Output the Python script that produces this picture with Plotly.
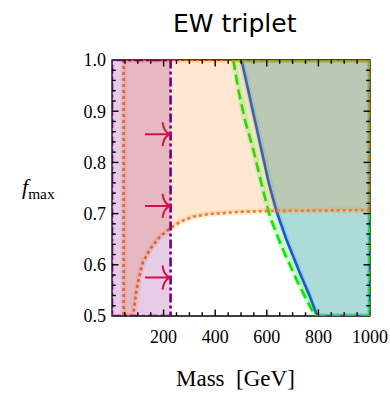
import plotly.graph_objects as go

# ---- exclusion boundaries (mass in GeV, f_max) ----
mass_min, mass_max = 0, 1000
f_min, f_max_top = 0.5, 1.0

# direct search limit (purple, dash-dot)
purple_mass = 227

# orange dotted boundary: vertical edge plus rising curve
orange_edge_mass = 45
orange_mass = [82, 93, 105, 121, 150, 186, 225, 264, 315, 373, 432, 483, 600, 800, 1000]
orange_f = [0.500, 0.544, 0.576, 0.606, 0.632, 0.655, 0.671, 0.684, 0.694, 0.699,
            0.701, 0.703, 0.705, 0.706, 0.707]

# green dashed boundary
green_mass = [470, 490, 515, 548, 580, 612, 658, 716, 761, 788]
green_f = [1.000, 0.941, 0.883, 0.824, 0.757, 0.694, 0.635, 0.570, 0.525, 0.500]

# blue solid boundary
blue_mass = [502, 528, 554, 580, 608, 638, 677, 729, 767, 795]
blue_f = [1.000, 0.941, 0.883, 0.824, 0.759, 0.704, 0.648, 0.583, 0.538, 0.500]

# arrows pointing at the direct search limit
arrow_f = [0.855, 0.715, 0.575]
arrow_start_mass = 128

x_ticks = [200, 400, 600, 800, 1000]
y_ticks = [0.5, 0.6, 0.7, 0.8, 0.9, 1.0]
x_major_step, x_minor_step = 200, 50
y_major_step, y_minor_step = 0.1, 0.02

# figure geometry (pixels)
W, H = 390, 398
M_L, M_R, M_T, M_B = 112, 20, 60, 82
plot_w, plot_h = W - M_L - M_R, H - M_T - M_B

fig = go.Figure()


def region(xs, ys, fill, edge, color, width, dash):
    # translucent halo along the boundary, then the styled boundary with the fill
    fig.add_trace(go.Scatter(x=xs, y=ys, mode="lines", hoverinfo="skip", showlegend=False,
                             line=dict(color=edge, width=6)))
    fig.add_trace(go.Scatter(x=xs, y=ys, fill="toself", fillcolor=fill, mode="lines",
                             hoverinfo="skip", showlegend=False,
                             line=dict(color=color, width=width, dash=dash)))


# blue region: right of the blue curve
region(blue_mass + [mass_max, mass_max, blue_mass[0]],
       blue_f + [f_min, f_max_top, blue_f[0]],
       "rgba(40,125,205,0.3)", "rgba(40,125,205,0.15)", "rgb(25,75,225)", 2.6, "solid")

# green region: right of the green curve
region(green_mass + [mass_max, mass_max, green_mass[0]],
       green_f + [f_min, f_max_top, green_f[0]],
       "rgba(0,255,0,0.09)", "rgba(0,255,0,0.15)", "rgb(0,235,0)", 2.6, "10px,5px")

# orange region: above the orange curve
region([orange_edge_mass, orange_edge_mass] + orange_mass + [mass_max, orange_edge_mass],
       [f_max_top, f_min] + orange_f + [f_max_top, f_max_top],
       "rgba(255,127,14,0.19)", "rgba(255,127,14,0.15)", "rgb(245,120,30)", 2.6, "dot")

# purple region: below the direct search limit
region([mass_min, purple_mass, purple_mass, mass_min, mass_min],
       [f_min, f_min, f_max_top, f_max_top, f_min],
       "rgba(128,0,128,0.2)", "rgba(128,0,128,0.0)", "rgb(110,0,125)", 2.6, "dashdot")

# inward ticks on all four sides (major + minor), drawn as short segments
px_x = (mass_max - mass_min) / plot_w   # GeV per pixel
px_y = (f_max_top - f_min) / plot_h     # f per pixel
major_len, minor_len = 6.5, 3.8
tx, ty = [], []
n_x = int(round((mass_max - mass_min) / x_minor_step))
for i in range(1, n_x):
    v = mass_min + i * x_minor_step
    ln = major_len if v % x_major_step == 0 else minor_len
    tx += [v, v, None, v, v, None]
    ty += [f_min, f_min + ln * px_y, None, f_max_top, f_max_top - ln * px_y, None]
n_y = int(round((f_max_top - f_min) / y_minor_step))
for i in range(1, n_y):
    v = round(f_min + i * y_minor_step, 4)
    major = abs(v / y_major_step - round(v / y_major_step)) < 1e-6
    ln = major_len if major else minor_len
    tx += [mass_min, mass_min + ln * px_x, None, mass_max, mass_max - ln * px_x, None]
    ty += [v, v, None, v, v, None]
fig.add_trace(go.Scatter(x=tx, y=ty, mode="lines", hoverinfo="skip", showlegend=False,
                         line=dict(color="black", width=1.4)))

# frame
shapes = [dict(type="rect", xref="paper", yref="paper", x0=0, x1=1, y0=0, y1=1,
               line=dict(color="black", width=1.3), layer="below")]

# arrows: shaft plus curved open head
head_dx, head_dy = 31, 0.0234
ctrl_dx, ctrl_dy = 27, 0.0039
for f in arrow_f:
    tip = purple_mass
    path = (f"M {arrow_start_mass},{f} L {tip},{f} "
            f"M {tip},{f} Q {tip - ctrl_dx},{f + ctrl_dy} {tip - head_dx},{f + head_dy} "
            f"M {tip},{f} Q {tip - ctrl_dx},{f - ctrl_dy} {tip - head_dx},{f - head_dy}")
    shapes.append(dict(type="path", xref="x", yref="y", path=path,
                       line=dict(color="rgb(205,20,75)", width=2), layer="above"))

tick_font = dict(family="Liberation Serif", size=18, color="black")
axis_common = dict(ticks="", showline=False, showgrid=False, zeroline=False,
                   tickfont=tick_font)

fig.update_layout(
    template="none",
    width=W, height=H,
    margin=dict(l=M_L, r=M_R, t=M_T, b=M_B),
    paper_bgcolor="white", plot_bgcolor="white",
    shapes=shapes,
    xaxis=dict(range=[mass_min, mass_max], tickvals=x_ticks, ticklabelstandoff=8,
               **axis_common),
    yaxis=dict(range=[f_min, f_max_top], tickvals=y_ticks, tickformat=".1f",
               ticklabelstandoff=5, **axis_common),
    annotations=[
        dict(text="EW triplet", xref="paper", yref="paper", x=0.477, y=1.0,
             yshift=37, xanchor="center", yanchor="middle", showarrow=False,
             font=dict(family="DejaVu Sans", size=25, color="black")),
        dict(text="Mass  [GeV]", xref="paper", yref="paper", x=0.477, y=0,
             yshift=-62, xanchor="center", yanchor="middle", showarrow=False,
             font=dict(family="Liberation Serif", size=23, color="black")),
        dict(text="<i>f</i><sub>max</sub>", xref="paper", yref="paper", x=0, xshift=-74,
             y=0.5, xanchor="center", yanchor="middle", showarrow=False,
             font=dict(family="Liberation Serif", size=22, color="black")),
    ],
)

fig.write_html("out.html")
